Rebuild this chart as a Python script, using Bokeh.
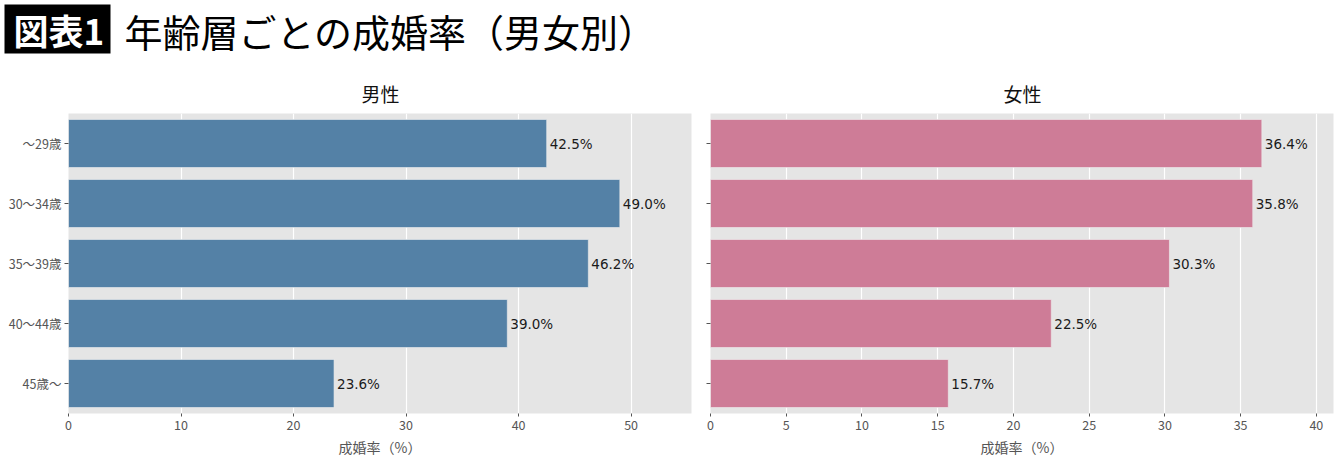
from bokeh.plotting import figure
from bokeh.models import ColumnDataSource, FactorRange, Range1d, SingleIntervalTicker, Label
from bokeh.layouts import column, row
from bokeh.core.properties import value
from bokeh.embed import file_html
from bokeh.resources import INLINE

FONT = "Noto Sans CJK JP"
NUM_FONT = "DejaVu Sans"

# ---- data ----
categories = ["～29歳", "30～34歳", "35～39歳", "40～44歳", "45歳～"]
male_rate = [42.5, 49.0, 46.2, 39.0, 23.6]
female_rate = [36.4, 35.8, 30.3, 22.5, 15.7]
panel_titles = ["男性", "女性"]
x_label = "成婚率（%）"
title_tag = "図表1"
title_text = "年齢層ごとの成婚率（男女別）"

MALE_COLOR = "#5481a6"
FEMALE_COLOR = "#ce7c97"
TXT = "#555555"


def panel(values, color, interval, show_ylabels, width, border_left, border_right):
    src = ColumnDataSource(dict(
        cat=categories,
        val=values,
        lab=[f"{v:.1f}%" for v in values],
    ))
    p = figure(
        width=width, height=346,
        y_range=FactorRange(factors=categories[::-1]),
        x_range=Range1d(0, max(values) * 1.13),
        output_backend="svg", toolbar_location=None,
        min_border_left=border_left, min_border_right=border_right,
        min_border_top=0, min_border_bottom=44,
    )
    p.background_fill_color = "#e5e5e5"
    p.border_fill_color = "white"
    p.outline_line_color = None
    p.hbar(y="cat", right="val", left=0, height=0.8, source=src,
           fill_color=color, line_color="#eeeeee", line_width=0.6)
    p.text(x="val", y="cat", text="lab", source=src, x_offset=3,
           text_baseline="middle", text_align="left",
           text_font=value(NUM_FONT), text_font_size="13.5px", text_color="#1a1a1a")

    p.xgrid.grid_line_color = "white"
    p.xgrid.grid_line_width = 1.2
    p.ygrid.grid_line_color = None

    xa = p.xaxis[0]
    xa.ticker = SingleIntervalTicker(interval=interval, num_minor_ticks=0)
    xa.axis_line_color = None
    xa.major_tick_line_color = TXT
    xa.major_tick_out = 3
    xa.major_tick_in = 0
    xa.minor_tick_line_color = None
    xa.major_label_text_color = TXT
    xa.major_label_text_font = FONT
    xa.major_label_text_font_size = "12.5px"
    xa.major_label_standoff = 3
    xa.axis_label = x_label
    xa.axis_label_text_font = FONT
    xa.axis_label_text_font_size = "14px"
    xa.axis_label_text_font_style = "normal"
    xa.axis_label_text_color = TXT
    xa.axis_label_standoff = 4

    ya = p.yaxis[0]
    ya.axis_line_color = None
    ya.major_tick_line_color = TXT
    ya.major_tick_out = 4
    ya.major_tick_in = 0
    ya.minor_tick_line_color = None
    ya.major_label_text_color = TXT
    ya.major_label_text_font = FONT
    ya.major_label_text_font_size = "12.5px"
    ya.major_label_standoff = 3
    if not show_ylabels:
        ya.major_label_overrides = {c: "" for c in categories}
        ya.major_label_text_color = None
        ya.major_label_standoff = 0
    return p


left = panel(male_rate, MALE_COLOR, 10, True, 700, 68, 9)
right = panel(female_rate, FEMALE_COLOR, 5, False, 640, 10, 7)

# ---- header with main title and panel titles ----
head = figure(width=1340, height=113, x_range=Range1d(0, 1340), y_range=Range1d(113, 0),
              x_axis_type=None, y_axis_type=None, output_backend="svg",
              toolbar_location=None, min_border=0)
head.outline_line_color = None
head.xgrid.visible = False
head.ygrid.visible = False
head.quad(left=[4], right=[110], top=[4], bottom=[53], fill_color="black", line_color=None)
head.add_layout(Label(x=13, y=29, text=title_tag, text_font=FONT, text_font_size="35px",
                      text_font_style="bold", text_color="white", text_baseline="middle"))
head.add_layout(Label(x=124, y=30, text=title_text, text_font=FONT, text_font_size="38px",
                      text_color="black", text_baseline="middle"))
head.add_layout(Label(x=380, y=93, text=panel_titles[0], text_font=FONT, text_font_size="19px",
                      text_color="#111111", text_baseline="middle", text_align="center"))
head.add_layout(Label(x=1022, y=93, text=panel_titles[1], text_font=FONT, text_font_size="19px",
                      text_color="#111111", text_baseline="middle", text_align="center"))

layout = column(head, row(left, right))
open("out.html", "w").write(file_html(layout, INLINE))
